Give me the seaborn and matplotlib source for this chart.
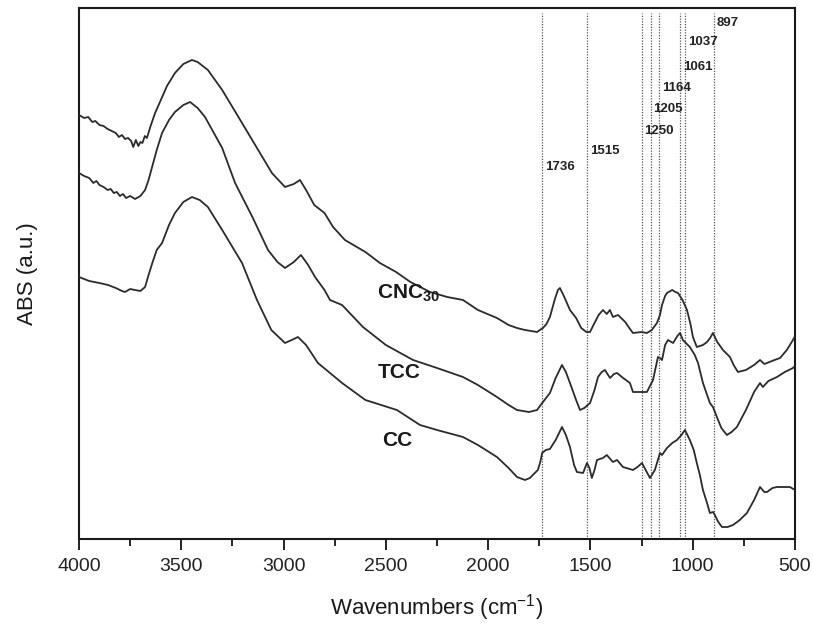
import matplotlib
matplotlib.use("Agg")
import matplotlib.pyplot as plt
from matplotlib.ticker import MultipleLocator
import seaborn as sns
import pandas as pd
import numpy as np

# wavenumber (cm-1) / absorbance (a.u., offset stacked as in the figure)
cnc_wn = [4000, 3975, 3955, 3935, 3920, 3900, 3880, 3860, 3840, 3820, 3805, 3790, 3775, 3760,
          3745, 3735, 3722, 3710, 3700, 3690, 3678, 3668, 3650, 3628, 3600, 3570, 3531, 3490,
          3448, 3420, 3370, 3300, 3203, 3130, 3057, 2993, 2950, 2920, 2890, 2850, 2800, 2758,
          2700, 2600, 2529, 2450, 2380, 2284, 2200, 2123, 2050, 1957, 1900, 1859, 1820, 1790,
          1761, 1740, 1732, 1715, 1698, 1675, 1659, 1649, 1630, 1600, 1570, 1545, 1520, 1502,
          1480, 1460, 1439, 1420, 1405, 1390, 1365, 1330, 1310, 1292, 1250, 1224, 1200, 1175,
          1160, 1150, 1135, 1126, 1100, 1085, 1072, 1050, 1028, 1010, 999, 980, 950, 930, 915,
          901, 880, 852, 818, 800, 779, 740, 700, 671, 650, 637, 600, 573, 540, 510, 500]
cnc_abs = [424, 421, 422, 417, 418, 414, 413, 410, 408, 406, 402, 404, 400, 401,
           398, 392, 399, 393, 397, 396, 403, 401, 413, 426, 439, 453, 466, 475,
           479, 477, 469, 449, 416, 391, 366, 352, 355, 359, 349, 334, 326, 312,
           299, 287, 276, 267, 257, 247, 242, 239, 229, 221, 214, 211, 209, 208,
           207, 210, 211, 215, 222, 239, 249, 251, 243, 229, 221, 211, 207, 207,
           216, 224, 229, 225, 229, 222, 224, 217, 211, 206, 207, 206, 209, 216,
           224, 234, 243, 246, 249, 247, 246, 239, 229, 214, 202, 192, 194, 197, 201,
           206, 197, 189, 182, 174, 167, 169, 174, 179, 175, 176, 179, 181, 189, 199, 203]

tcc_wn = [4000, 3975, 3950, 3930, 3915, 3900, 3880, 3860, 3845, 3830, 3815, 3800, 3785, 3770,
          3750, 3726, 3700, 3677, 3660, 3640, 3620, 3594, 3560, 3531, 3490, 3457, 3420, 3384,
          3300, 3237, 3150, 3076, 3030, 2993, 2950, 2915, 2880, 2846, 2800, 2773, 2714, 2612,
          2500, 2367, 2250, 2123, 2050, 1957, 1900, 1859, 1800, 1761, 1732, 1698, 1670, 1639,
          1620, 1600, 1570, 1551, 1530, 1502, 1480, 1463, 1445, 1429, 1404, 1385, 1370, 1340,
          1307, 1292, 1250, 1224, 1194, 1170, 1160, 1150, 1135, 1121, 1096, 1075, 1062, 1048,
          1014, 990, 974, 950, 916, 901, 882, 860, 833, 810, 784, 740, 700, 671, 657, 630,
          588, 550, 510, 500]
tcc_abs = [366, 363, 361, 356, 358, 354, 352, 349, 350, 346, 347, 343, 345, 341,
           343, 340, 343, 349, 359, 374, 389, 406, 419, 427, 434, 437, 431, 422,
           391, 356, 321, 289, 277, 271, 277, 284, 274, 262, 249, 239, 234, 212,
           194, 179, 171, 162, 154, 142, 134, 129, 127, 129, 137, 146, 161, 174,
           167, 156, 139, 129, 131, 136, 149, 162, 167, 169, 161, 165, 166, 161,
           156, 147, 147, 147, 159, 182, 181, 179, 194, 199, 196, 203, 206, 199,
           192, 184, 176, 156, 136, 132, 122, 111, 104, 107, 112, 129, 147, 156, 152, 158,
           162, 167, 171, 173]

cc_wn = [4000, 3950, 3900, 3858, 3820, 3790, 3775, 3750, 3726, 3700, 3677, 3660, 3640, 3620,
         3594, 3560, 3531, 3490, 3448, 3410, 3370, 3300, 3203, 3130, 3060, 2993, 2960, 2930,
         2890, 2832, 2773, 2714, 2600, 2446, 2333, 2250, 2123, 2050, 1957, 1900, 1859, 1820,
         1796, 1757, 1745, 1736, 1718, 1698, 1670, 1639, 1620, 1600, 1580, 1566, 1536, 1517,
         1505, 1493, 1480, 1468, 1439, 1420, 1390, 1370, 1341, 1292, 1270, 1248, 1230, 1209,
         1185, 1160, 1150, 1126, 1100, 1077, 1055, 1038, 1014, 995, 980, 965, 950, 930, 916,
         900, 892, 875, 857, 830, 803, 770, 735, 700, 671, 650, 637, 610, 588, 560, 525, 500]
cc_abs = [262, 258, 256, 254, 251, 248, 247, 250, 249, 248, 252, 264, 277, 289,
          296, 314, 326, 337, 342, 339, 332, 309, 276, 239, 209, 196, 199, 202,
          194, 176, 166, 156, 139, 129, 114, 109, 102, 94, 82, 71, 62, 59,
          61, 69, 77, 86, 89, 90, 99, 112, 104, 92, 74, 67, 66, 76,
          71, 61, 69, 79, 81, 84, 77, 79, 72, 69, 72, 76, 69, 61,
          69, 86, 84, 91, 96, 99, 104, 109, 99, 89, 76, 64, 49, 36, 26,
          27, 24, 17, 12, 12, 14, 19, 26, 39, 52, 47, 47, 51, 52, 52, 52, 49]

peaks = [1736, 1515, 1250, 1205, 1164, 1061, 1037, 897]
peak_label_y = [372, 388, 408, 430, 451, 472, 497, 516]

curve_names = ["CNC$_\\mathregular{30}$", "TCC", "CC"]
curve_label_pos = [(2545, 246), (2538, 167), (2519, 99)]

sns.set_theme(style="ticks")
plt.rcParams['font.family'] = ['Liberation Sans', 'DejaVu Sans']

df = pd.concat([
    pd.DataFrame({'wn': cnc_wn, 'abs': cnc_abs, 'sample': 'CNC30'}),
    pd.DataFrame({'wn': tcc_wn, 'abs': tcc_abs, 'sample': 'TCC'}),
    pd.DataFrame({'wn': cc_wn, 'abs': cc_abs, 'sample': 'CC'}),
])

fig = plt.figure(figsize=(8.13, 6.24), dpi=100)
ax = fig.add_axes([79 / 813, 1 - 539 / 624, 716 / 813, 531 / 624])

for p in peaks:
    ax.axvline(p, ymin=0, ymax=0.99, color='#555555', linestyle=(0, (1, 1.2)), linewidth=0.9, zorder=1)

sns.lineplot(data=df, x='wn', y='abs', hue='sample', units='sample', estimator=None,
             palette=['#2b2b2b'] * 3, linewidth=1.3, legend=False, ax=ax, zorder=3)

for p, ly in zip(peaks, peak_label_y):
    ax.annotate(str(p), xy=(p, ly), xytext=(2, 0), textcoords='offset points',
                ha='left', va='center', fontsize=9.5, fontweight='bold', color='#222222')

for name, (x, y) in zip(curve_names, curve_label_pos):
    ax.text(x, y, name, ha='left', va='center', fontsize=15, fontweight='bold', color='#1a1a1a')

ax.set_xlim(4000, 500)
ax.set_ylim(0, 531)
ax.set_yticks([])
ax.xaxis.set_major_locator(MultipleLocator(500))
ax.xaxis.set_minor_locator(MultipleLocator(250))
ax.tick_params(axis='x', which='major', direction='out', length=8, width=1.4, pad=6,
               labelsize=14, colors='#222222')
ax.tick_params(axis='x', which='minor', direction='out', length=5, width=1.4)
for s in ax.spines.values():
    s.set_visible(True)
    s.set_linewidth(1.5)
    s.set_color('#1a1a1a')

ax.set_xlabel('Wavenumbers (cm$^{\\mathregular{-1}}$)', fontsize=16, color='#1a1a1a')
ax.set_ylabel('ABS (a.u.)', fontsize=16, color='#1a1a1a')
ax.xaxis.set_label_coords(0.5, -0.1)
ax.yaxis.set_label_coords(-0.057, 0.5)

fig.savefig('out.png', dpi=100, facecolor='white')
